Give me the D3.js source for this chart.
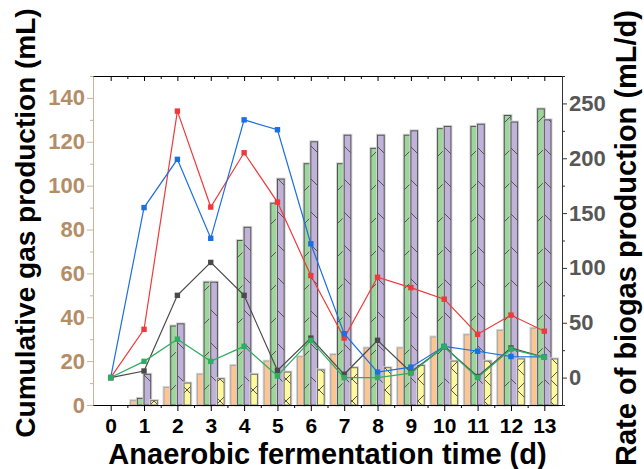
<!DOCTYPE html>
<html>
<head>
<meta charset="utf-8">
<script src="https://cdn.jsdelivr.net/npm/d3@7/dist/d3.min.js"></script>
<style>
  body { margin: 0; background: #fff; }
  svg text { font-family: "Liberation Sans", Arial, sans-serif; font-weight: bold; }
</style>
</head>
<body>
<script>
// fermentation days
const days = [0, 1, 2, 3, 4, 5, 6, 7, 8, 9, 10, 11, 12, 13];

// cumulative gas production (mL), left axis bars
const cumOrange = [0, 2, 8, 14, 18, 20, 22, 23, 26, 26, 31, 32, 34, 35];
const cumGreen  = [0, 3, 36, 56, 75, 92, 110, 110, 117, 123, 126, 127, 132, 135];
const cumPurple = [0, 14, 37, 56, 81, 103, 120, 123, 123, 125, 127, 128, 129, 130];
const cumYellow = [0, 2, 10, 12, 14, 15, 16, 17, 17, 18, 20, 20, 21, 21];

// daily biogas rate (mL/d), right axis lines
const rateGray  = [0, 6, 75, 105, 75, 6.5, 36, 3, 34, 5, 28, 1, 27, 18.5];
const rateRed   = [0, 44, 243, 155.5, 205, 160, 93, 36, 91.5, 82, 71.5, 39.5, 57, 42.3];
const rateBlue  = [0, 155, 199, 127, 235, 226, 122, 40, 5, 9.5, 28.5, 24, 19.2, 18.8];
const rateGreen = [0, 14.8, 35, 14.8, 28.5, 1.5, 34, 0, 0, 4, 28, 0, 26, 18.5];

// axis ticks
const leftTicks = [0, 20, 40, 60, 80, 100, 120, 140];
const leftMinor = [10, 30, 50, 70, 90, 110, 130, 150];
const rightTicks = [0, 50, 100, 150, 200, 250];
const rightMinor = [-25, 25, 75, 125, 175, 225, 275];

const W = 644, H = 469;
const plot = { left: 93, right: 562, top: 76, bottom: 405 };

const bars = [
  { key: "orange", values: cumOrange, fill: "#fcc592", stroke: "#a9a9a9", pattern: null },
  { key: "green",  values: cumGreen,  fill: "#9dd69b", stroke: "#555", pattern: "fwd" },
  { key: "purple", values: cumPurple, fill: "#c1b2da", stroke: "#555", pattern: "back" },
  { key: "yellow", values: cumYellow, fill: "#fff99e", stroke: "#707070", pattern: "cross" }
];

const lines = [
  { key: "gray",  values: rateGray,  color: "#4a4a4a" },
  { key: "red",   values: rateRed,   color: "#ef3a3d" },
  { key: "blue",  values: rateBlue,  color: "#1c6fe0" },
  { key: "green", values: rateGreen, color: "#2fad62" }
];

const svg = d3.select("body").append("svg")
  .attr("width", W)
  .attr("height", H);

const x = d3.scaleLinear().domain([-0.53, 13.53]).range([plot.left, plot.right]);
const yLeft = d3.scaleLinear().domain([0, 150]).range([plot.bottom, plot.top]);
const yRight = d3.scaleLinear().domain([-25, 275]).range([plot.bottom, plot.top]);
const step = x(1) - x(0);
const sub = d3.scaleBand().domain(bars.map(b => b.key)).range([-0.4 * step, 0.4 * step]);

// sparse hatch fills: P is the tile size
const defs = svg.append("defs");
function diag(P, dir) {
  return dir > 0
    ? ["M0," + P + "L" + P + ",0", "M-4,4L4,-4", "M" + (P - 4) + "," + (P + 4) + "L" + (P + 4) + "," + (P - 4)]
    : ["M0,0L" + P + "," + P, "M-4," + (P - 4) + "L4," + (P + 4), "M" + (P - 4) + ",-4L" + (P + 4) + ",4"];
}
const hatch = {
  fwd:   { P: 33, paths: diag(33, 1) },
  back:  { P: 33, paths: diag(33, -1) },
  cross: { P: 22, paths: diag(22, 1).concat(diag(22, -1)) }
};
bars.filter(b => b.pattern).forEach(b => {
  const h = hatch[b.pattern];
  const p = defs.append("pattern")
    .attr("id", "hatch-" + b.key)
    .attr("patternUnits", "userSpaceOnUse")
    .attr("y", b.pattern === "cross" ? 5 : 0)
    .attr("width", h.P).attr("height", h.P);
  p.append("rect").attr("width", h.P).attr("height", h.P).attr("fill", b.fill);
  h.paths.forEach(d => {
    p.append("path").attr("d", d).attr("stroke", "#555").attr("stroke-width", 1).attr("fill", "none");
  });
});

// bars
bars.forEach(b => {
  const data = days.map((d, i) => ({ day: d, value: b.values[i] })).filter(d => d.value > 0);
  const g = svg.append("g").attr("class", "bars-" + b.key);
  // soft grey halo
  g.selectAll("rect.halo")
    .data(data)
    .join("rect")
      .attr("class", "halo")
      .attr("x", d => x(d.day) + sub(b.key))
      .attr("y", d => yLeft(d.value))
      .attr("width", sub.bandwidth())
      .attr("height", d => yLeft(0) - yLeft(d.value))
      .attr("fill", "none")
      .attr("stroke", "#d4d4d4")
      .attr("stroke-width", 3);
  g.selectAll("rect.bar")
    .data(data)
    .join("rect")
      .attr("class", "bar")
      .attr("x", d => x(d.day) + sub(b.key))
      .attr("y", d => yLeft(d.value))
      .attr("width", sub.bandwidth())
      .attr("height", d => yLeft(0) - yLeft(d.value))
      .attr("fill", b.pattern ? "url(#hatch-" + b.key + ")" : b.fill)
      .attr("stroke", b.stroke)
      .attr("stroke-width", 1);
});

// rate lines with square markers
const line = d3.line()
  .x(d => x(d.day))
  .y(d => yRight(d.value));

lines.forEach(s => {
  const data = days.map((d, i) => ({ day: d, value: s.values[i] }));
  svg.append("path")
    .datum(data)
    .attr("fill", "none")
    .attr("stroke", s.color)
    .attr("stroke-width", 1.2)
    .attr("d", line);
  svg.append("g").selectAll("rect")
    .data(data)
    .join("rect")
      .attr("x", d => x(d.day) - 2.7)
      .attr("y", d => yRight(d.value) - 2.7)
      .attr("width", 5.4)
      .attr("height", 5.4)
      .attr("fill", s.color);
});

// axes
function styleAxis(g, color, textColor, size) {
  g.select(".domain").attr("stroke", color);
  g.selectAll(".tick line").attr("stroke", color);
  g.selectAll(".tick text").attr("fill", textColor).style("font-size", size + "px");
}

const halfDays = d3.range(0.5, 13, 1);

svg.append("g")
  .attr("transform", "translate(0," + plot.bottom + ")")
  .call(d3.axisBottom(x).tickValues(days).tickSize(6).tickSizeOuter(0).tickPadding(7))
  .call(g => styleAxis(g, "#000", "#000", 21))
  .call(g => g.select(".domain").attr("d", "M" + plot.left + ",0.5H" + plot.right));
svg.append("g")
  .attr("transform", "translate(0," + plot.bottom + ")")
  .call(d3.axisBottom(x).tickValues(halfDays).tickSize(3).tickFormat(""))
  .call(g => g.select(".domain").remove());

// top mirror axis, ticks inward
svg.append("g")
  .attr("transform", "translate(0," + plot.top + ")")
  .call(d3.axisTop(x).tickValues(days).tickSize(-5).tickSizeOuter(0).tickFormat(""))
  .call(g => g.select(".domain").attr("d", "M" + plot.left + ",0.5H" + plot.right));
svg.append("g")
  .attr("transform", "translate(0," + plot.top + ")")
  .call(d3.axisTop(x).tickValues(halfDays).tickSize(-3).tickFormat(""))
  .call(g => g.select(".domain").remove());

svg.append("g")
  .attr("transform", "translate(" + plot.left + ",0)")
  .call(d3.axisLeft(yLeft).tickValues(leftTicks).tickSize(6).tickSizeOuter(0).tickPadding(2))
  .call(g => styleAxis(g, "#cdb299", "#b48d66", 22));
svg.append("g")
  .attr("transform", "translate(" + plot.left + ",0)")
  .call(d3.axisLeft(yLeft).tickValues(leftMinor).tickSize(3).tickFormat(""))
  .call(g => g.select(".domain").remove())
  .call(g => g.selectAll(".tick line").attr("stroke", "#cdb299"));

svg.append("g")
  .attr("transform", "translate(" + plot.right + ",0)")
  .call(d3.axisRight(yRight).tickValues(rightTicks).tickSize(5).tickSizeOuter(0).tickPadding(2))
  .call(g => styleAxis(g, "#333", "#575757", 22));
svg.append("g")
  .attr("transform", "translate(" + plot.right + ",0)")
  .call(d3.axisRight(yRight).tickValues(rightMinor).tickSize(3).tickFormat(""))
  .call(g => g.select(".domain").remove())
  .call(g => g.selectAll(".tick line").attr("stroke", "#333"));

// titles
svg.append("text")
  .attr("transform", "translate(35,223) rotate(-90)")
  .attr("text-anchor", "middle")
  .style("font-size", "28px")
  .attr("fill", "#000")
  .text("Cumulative gas production (mL)");

svg.append("text")
  .attr("transform", "translate(636,238) rotate(-90)")
  .attr("text-anchor", "middle")
  .style("font-size", "29px")
  .attr("fill", "#000")
  .text("Rate of biogas production (mL/d)");

svg.append("text")
  .attr("x", (plot.left + plot.right) / 2)
  .attr("y", 464)
  .attr("text-anchor", "middle")
  .style("font-size", "29px")
  .attr("fill", "#000")
  .text("Anaerobic fermentation time (d)");
</script>
</body>
</html>
